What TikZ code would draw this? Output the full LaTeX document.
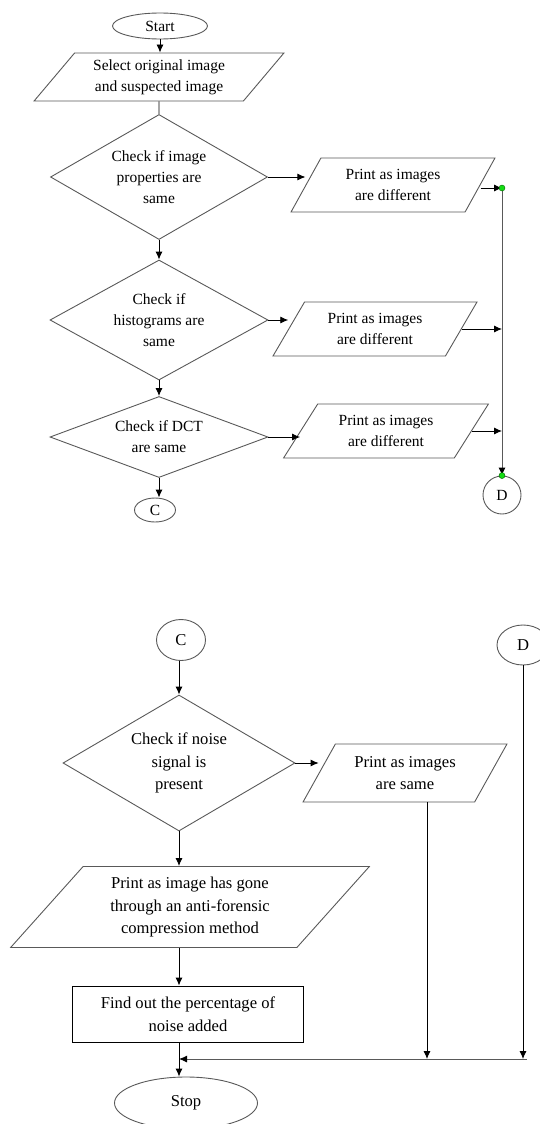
\documentclass[tikz,border=0pt]{standalone}
\usepackage{fontspec}
\setmainfont{Liberation Serif}
\usetikzlibrary{arrows.meta, shapes.geometric}
\tikzset{
  term/.style={ellipse, draw=black!65, inner sep=0pt},
  io/.style={trapezium, trapezium stretches=true, draw=black!65, inner sep=0pt, align=center},
  decision/.style={diamond, draw=black!65, inner sep=0pt, align=center},
  box/.style={rectangle, draw=black, inner sep=0pt, align=center},
  line/.style={-{Latex[length=8pt,width=7pt,color=black]}},
  glue/.style={circle, fill={rgb,255:red,20;green,220;blue,20}, draw=green!40!black, line width=0.4pt, inner sep=0pt, minimum size=6pt},
  lowfont/.style={font=\fontsize{16.6}{22.5}\selectfont}
}

\begin{document}
\begin{tikzpicture}[x=1pt, y=-1pt, line width=0.9pt, font=\fontsize{15.5}{21}\selectfont]
    \useasboundingbox (0,0) rectangle (539,1124);
    % first page of the chart
    \node[term, minimum width=95pt, minimum height=26pt] (start) at (160,26) {Start};
    \node[io, trapezium left angle=48, trapezium right angle=132, minimum width=250pt, minimum height=48pt] (p1) at (159,77) {Select original image\\and suspected image};
    \node[decision, aspect=1.74, minimum width=217pt, minimum height=125pt] (d1) at (159,177) {Check if image\\properties are\\same};
    \node[io, trapezium left angle=58, trapezium right angle=122, minimum width=204pt, minimum height=54pt] (p2) at (393,185) {Print as images\\are different};
    \node[decision, aspect=1.82, minimum width=218pt, minimum height=120pt] (d2) at (159,320) {Check if\\histograms are\\same};
    \node[io, trapezium left angle=56, trapezium right angle=124, minimum width=204pt, minimum height=54pt] (p3) at (375,329) {Print as images\\are different};
    \node[decision, aspect=2.69, minimum width=218pt, minimum height=81pt] (d3) at (159,437) {Check if DCT\\are same};
    \node[io, trapezium left angle=53, trapezium right angle=127, minimum width=205pt, minimum height=54pt] (p4) at (386,431) {Print as images\\are different};
    \node[term, minimum width=41pt, minimum height=24pt] (c1) at (155,510) {C};
    \node[term, minimum width=38pt, minimum height=38pt] (dd1) at (502,495) {D};
    \coordinate (j1) at (502,188);

    \draw[line] (start.south) -- (start.south |- p1.north);
    \draw (p1) -- (d1);
    \draw[line] (d1.east) -- (d1.east -| p2.west);
    \draw[line] (d1) -- (d2);
    \draw[line] (d2.east) -- (d2.east -| p3.west);
    \draw[line] (d2) -- (d3);
    \draw[line] (d3.east) -- (d3.east -| p4.west);
    \draw[line] (d3.south) -- (d3.south |- c1.north);
    \draw[line] (p2.east |- j1) -- (j1);
    \draw[line] (p3.east) -- (p3.east -| j1);
    \draw[line] (p4.east) -- (p4.east -| j1);
    \draw[line, black!65] (j1) -- (dd1.north);
    \node[glue] (g1) at (j1) {};
    \node[glue] (g2) at (dd1.north) {};

    % second page of the chart
    \begin{scope}[lowfont]
    \node[term, minimum width=49pt, minimum height=41pt] (c2) at (181,640) {C};
    \node[term, minimum width=52pt, minimum height=40pt] (dd2) at (523,645) {D};
    \node[decision, aspect=1.71, minimum width=232pt, minimum height=136pt] (d4) at (179,763) {Check if noise\\signal is\\present};
    \node[io, trapezium left angle=55, trapezium right angle=125, minimum width=204pt, minimum height=58pt] (p5) at (405,773) {Print as images\\are same};
    \node[io, trapezium left angle=48, trapezium right angle=132, minimum width=360pt, minimum height=81pt] (p6) at (190,907) {Print as image has gone\\through an anti-forensic\\compression method};
    \node[box, minimum width=231pt, minimum height=56pt] (r1) at (188,1014) {Find out the percentage of\\noise added};
    \node[term, minimum width=143pt, minimum height=52pt] (stop) at (186,1103) {Stop};
    \end{scope}
    \coordinate (j2) at (427,1059);
    \coordinate (j3) at (527,1059);

    \draw[line] (d4.north |- c2.south) -- (d4.north);
    \draw[line] (d4.east) -- (d4.east -| p5.west);
    \draw[line] (d4.south) -- (d4.south |- p6.north);
    \draw[line] (d4.south |- p6.south) -- (d4.south |- r1.north);
    \draw[line] (d4.south |- r1.south) -- (d4.south |- stop.north);
    \draw[line] (j2 |- p5.south) -- (j2);
    \draw[line] (dd2.south) -- (dd2.south |- j2);
    \draw[line, black!65] (j3) -- (d4.south |- j3);
\end{tikzpicture}
\end{document}
